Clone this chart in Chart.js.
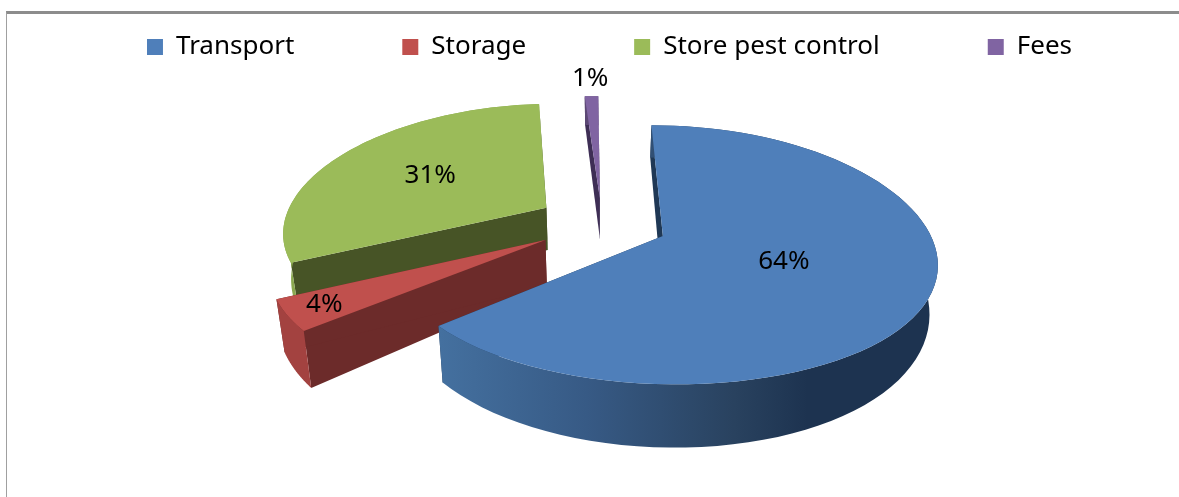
<!DOCTYPE html>
<html>
<head>
<meta charset="utf-8">
<title>Cost shares</title>
<script src="https://cdn.jsdelivr.net/npm/chart.js@4"></script>
<style>
  html, body { margin: 0; padding: 0; background: #fff; overflow: hidden; }
  #frame { position: absolute; left: 6px; top: 11px; right: 0; bottom: 0;
           border-left: 1px solid #a0a0a0; border-top: 3px solid #8c8c8c; }
  #pie { position: absolute; left: 0; top: 0; }
</style>
</head>
<body>
<div id="frame"></div>
<canvas id="pie" width="1179" height="497"></canvas>
<script>
const categories = ["Transport", "Storage", "Store pest control", "Fees"];
const shares = [64, 4, 31, 1];
const topColors = ["#4f7fba", "#c0504d", "#9bbb59", "#8064a2"];
const outerColors = ["#30507a", "#a34240", "#8aa84f", "#5c4875"];
const innerColors = ["#1f3855", "#6c2b2a", "#475426", "#3e2e55"];
const explode = [25, 25, 25, 21];

// how far along the radius each label sits
const labelAt = [0.47, 0.87, 0.56, 1.2];
// back to front
const drawOrder = [2, 3, 1, 0];

// tilted view of the flat pie
const view = { cx: 602, cy: 223, w: 263, a: 123, b: 0.143, bx: 0.18 };

function project(arc, px, py) {
  const u = (px - arc.x) / arc.outerRadius;
  const v = (py - arc.y) / arc.outerRadius;
  return {
    x: view.cx + view.w * u / (1 - view.bx * v),
    y: view.cy + view.a * v / (1 - view.b * v)
  };
}

// same point on the underside of the slice
function lower(p) {
  return {
    x: p.x + (view.cx - p.x) * 0.025,
    y: p.y + 46 + 0.12 * (p.y - 240)
  };
}

function fillPoly(ctx, pts, color) {
  ctx.beginPath();
  pts.forEach((p, i) => (i ? ctx.lineTo(p.x, p.y) : ctx.moveTo(p.x, p.y)));
  ctx.closePath();
  ctx.fillStyle = color;
  ctx.fill();
}

function drawSlice(ctx, arc, i) {
  const mid = (arc.startAngle + arc.endAngle) / 2;
  const ox = arc.x + Math.cos(mid) * arc.options.offset;
  const oy = arc.y + Math.sin(mid) * arc.options.offset;
  const apex = project(arc, ox, oy);

  const rim = [];
  const steps = 80;
  for (let s = 0; s <= steps; s++) {
    const a = arc.startAngle + (arc.endAngle - arc.startAngle) * s / steps;
    rim.push(project(arc, ox + Math.cos(a) * arc.outerRadius, oy + Math.sin(a) * arc.outerRadius));
  }
  const first = rim[0];
  const last = rim[rim.length - 1];

  // cut faces
  fillPoly(ctx, [apex, first, lower(first), lower(apex)], innerColors[i]);
  fillPoly(ctx, [apex, last, lower(last), lower(apex)], innerColors[i]);

  // outer wall
  let wall = outerColors[i];
  if (i === 0) {
    wall = ctx.createLinearGradient(440, 0, 930, 0);
    wall.addColorStop(0, "#44709f");
    wall.addColorStop(0.3, "#375a85");
    wall.addColorStop(0.6, "#29425f");
    wall.addColorStop(0.75, "#1d3350");
    wall.addColorStop(1, "#1d3350");
  }
  fillPoly(ctx, rim.concat(rim.map(lower).reverse()), wall);

  // top face
  fillPoly(ctx, [apex].concat(rim), topColors[i]);
}

const tiltedPie = {
  id: "tiltedPie",
  beforeDatasetDraw(chart) {
    const ctx = chart.ctx;
    const arcs = chart.getDatasetMeta(0).data;
    ctx.save();
    drawOrder.forEach(i => drawSlice(ctx, arcs[i], i));

    ctx.fillStyle = "#000";
    ctx.font = "26px 'Noto Sans'";
    ctx.textAlign = "center";
    ctx.textBaseline = "middle";
    arcs.forEach((arc, i) => {
      const mid = (arc.startAngle + arc.endAngle) / 2;
      const r = arc.options.offset + arc.outerRadius * labelAt[i];
      const p = project(arc, arc.x + Math.cos(mid) * r, arc.y + Math.sin(mid) * r);
      ctx.fillText(shares[i] + "%", p.x, p.y);
    });
    ctx.restore();
    return false;
  }
};

new Chart(document.getElementById("pie"), {
  type: "pie",
  data: {
    labels: categories,
    datasets: [{
      data: shares,
      backgroundColor: topColors,
      borderWidth: 0,
      offset: explode
    }]
  },
  options: {
    responsive: false,
    animation: false,
    rotation: -0.5,
    radius: 100,
    layout: { padding: { top: -74, left: 20, right: -20 } },
    plugins: {
      tooltip: { enabled: false },
      legend: {
        position: "top",
        labels: {
          boxWidth: 16,
          boxHeight: 16,
          padding: 108,
          color: "#000",
          font: { family: "'Noto Sans'", size: 26 }
        }
      }
    }
  },
  plugins: [tiltedPie]
});
</script>
</body>
</html>
